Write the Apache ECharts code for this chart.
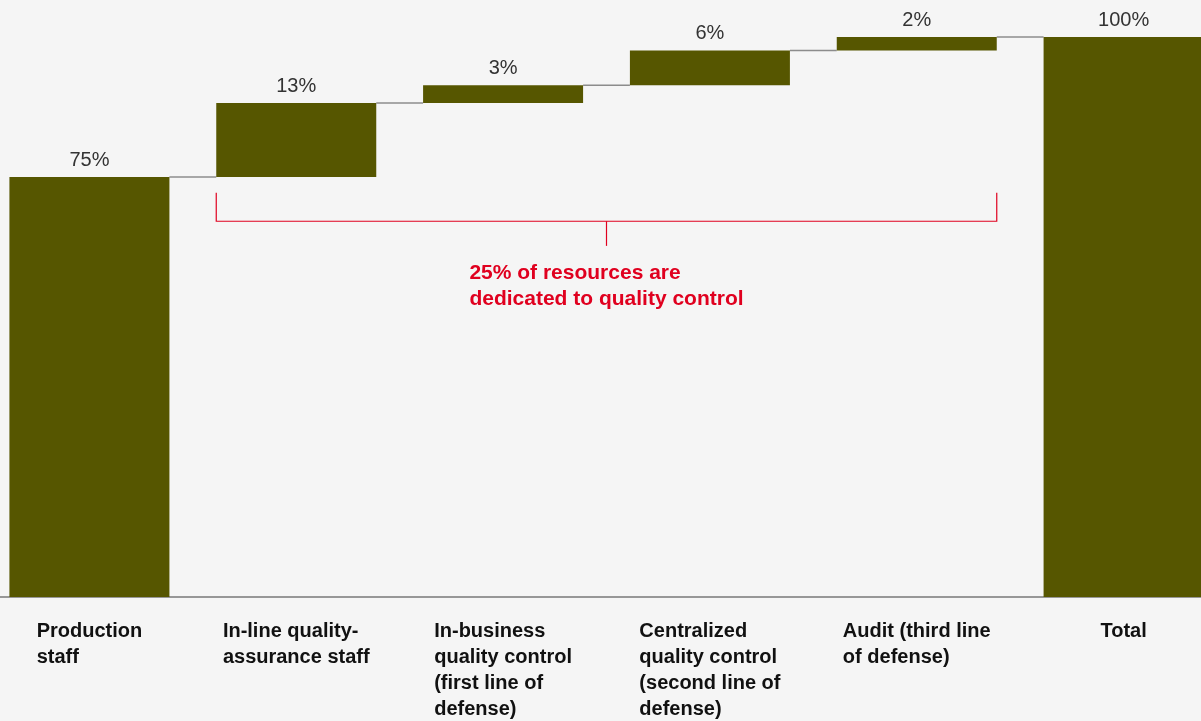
<!DOCTYPE html>
<html>
<head>
<meta charset="utf-8">
<script src="https://cdn.jsdelivr.net/npm/echarts@6/dist/echarts.min.js"></script>
<style>
  html, body { margin: 0; padding: 0; background: #f5f5f5; }
  #chart { width: 1201px; height: 721px; }
</style>
</head>
<body>
<div id="chart"></div>
<script>
// categories and step values (percent of resources)
const categories = [
  'Production\nstaff',
  'In-line quality-\nassurance staff',
  'In-business\nquality control\n(first line of\ndefense)',
  'Centralized\nquality control\n(second line of\ndefense)',
  'Audit (third line\nof defense)',
  'Total'
];
const steps = [75, 13.2, 3.2, 6.2, 2.4];
const total = 100;
const noteText = '25% of resources are\ndedicated to quality control';

const BAR_W = 160;

// build waterfall pieces
const baseVals = [];
const barVals = [];
const levels = [];
let run = 0;
steps.forEach((v, i) => {
  baseVals.push(i === 0 ? 0 : run);
  barVals.push(v);
  run += v;
  levels.push(run);
});
baseVals.push(0);
barVals.push(total);

const chart = echarts.init(document.getElementById('chart'));

const richLines = s => s.split('\n').map(l => '{t|' + l + '}').join('\n');

const option = {
  backgroundColor: '#f5f5f5',
  animation: false,
  grid: { left: -14, width: 1241, top: 37, bottom: 124, outerBoundsMode: 'none' },
  xAxis: {
    type: 'category',
    data: categories,
    axisTick: { show: false },
    axisLine: { lineStyle: { color: '#777', width: 1.5 } },
    axisLabel: {
      interval: 0,
      margin: 21,
      align: 'center',
      verticalAlign: 'top',
      formatter: richLines,
      rich: {
        t: {
          align: 'left',
          fontFamily: 'Liberation Sans, Arial, sans-serif',
          fontWeight: 'bold',
          fontSize: 20,
          lineHeight: 26,
          color: '#111'
        }
      }
    }
  },
  yAxis: {
    type: 'value',
    min: 0,
    max: 100,
    show: false,
    splitLine: { show: false }
  },
  series: [
    {
      name: 'base',
      type: 'bar',
      stack: 'w',
      data: baseVals,
      barWidth: BAR_W,
      itemStyle: { color: 'transparent' },
      z: 2
    },
    {
      name: 'value',
      type: 'bar',
      stack: 'w',
      data: barVals,
      barWidth: BAR_W,
      z: 3,
      itemStyle: { color: '#565600' },
      label: {
        show: true,
        position: 'top',
        distance: 7,
        fontFamily: 'Liberation Sans, Arial, sans-serif',
        fontSize: 20,
        color: '#333',
        formatter: p => Math.round(p.value) + '%'
      }
    },
    {
      // thin connectors between neighbouring bars
      name: 'connector',
      type: 'custom',
      data: levels.map((v, i) => [i, v]),
      z: 1,
      renderItem: (params, api) => {
        const i = api.value(0);
        const lvl = api.value(1);
        const a = api.coord([i, lvl]);
        const b = api.coord([i + 1, lvl]);
        return {
          type: 'line',
          shape: { x1: a[0] + BAR_W / 2, y1: a[1], x2: b[0] - BAR_W / 2, y2: b[1] },
          style: { stroke: '#8c8c8c', lineWidth: 1.5 }
        };
      }
    }
  ]
};

chart.setOption(option);

// bracket annotation over the quality-control steps
function drawBracket() {
  const half = BAR_W / 2;
  const left = chart.convertToPixel({ gridIndex: 0 }, [1, 0])[0] - half;
  const right = chart.convertToPixel({ gridIndex: 0 }, [4, 0])[0] + half;
  const yTop = chart.convertToPixel({ gridIndex: 0 }, [0, 72.2])[1];
  const yBar = chart.convertToPixel({ gridIndex: 0 }, [0, 67.1])[1];
  const yStem = chart.convertToPixel({ gridIndex: 0 }, [0, 62.7])[1];
  const mid = (left + right) / 2;
  const red = '#e0001f';
  chart.setOption({
    graphic: [
      {
        type: 'polyline',
        shape: { points: [[left, yTop], [left, yBar], [right, yBar], [right, yTop]] },
        style: { stroke: red, lineWidth: 1.2, fill: null }
      },
      {
        type: 'line',
        shape: { x1: mid, y1: yBar, x2: mid, y2: yStem },
        style: { stroke: red, lineWidth: 1.2 }
      },
      {
        type: 'text',
        x: mid,
        y: yStem + 14,
        style: {
          text: richLines(noteText),
          align: 'center',
          verticalAlign: 'top',
          rich: {
            t: {
              align: 'left',
              fontFamily: 'Liberation Sans, Arial, sans-serif',
              fontWeight: 'bold',
              fontSize: 21,
              lineHeight: 26,
              fill: red
            }
          }
        }
      }
    ]
  });
}
drawBracket();
</script>
</body>
</html>
